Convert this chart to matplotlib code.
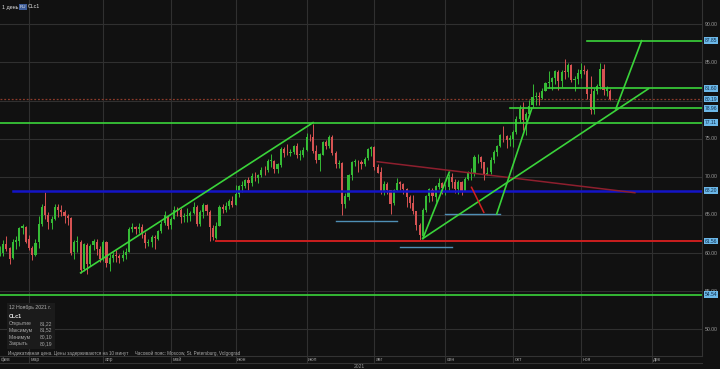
import numpy as np
import pandas as pd
import matplotlib
matplotlib.use("Agg")
import matplotlib.pyplot as plt
from matplotlib.transforms import blended_transform_factory
from matplotlib.patches import Rectangle

plt.rcParams['font.family'] = ['Liberation Sans', 'DejaVu Sans']

# ---------------- data (CLc1 daily, 16 Feb 2021 - 12 Nov 2021) ----------------
start_date = '2021-02-16'
end_date = '2021-11-12'
holidays = ['2021-04-02', '2021-05-31', '2021-07-05', '2021-09-06']

opens = [
    59.70, 60.00, 61.20, 60.60, 59.30, 61.50, 61.60, 63.25, 63.40,
    61.80, 60.60, 59.80, 61.40, 63.80, 66.20, 65.00, 64.00, 64.40, 66.00, 65.60, 65.40, 64.80, 64.60, 60.10, 61.40, 61.50, 57.90, 61.10, 58.60, 61.00, 61.50, 60.50,
    59.30, 61.40, 58.60, 59.40, 59.70, 59.60, 59.30, 59.70, 60.20, 63.20, 63.40, 63.10, 63.40, 62.40, 61.30, 61.40, 62.10, 61.90, 62.90, 63.90, 64.90,
    63.70, 64.50, 65.70, 65.60, 64.70, 64.90, 64.90, 65.30, 66.10, 63.80, 65.40, 66.30, 65.40, 63.30, 62.00, 63.60, 66.00, 65.70, 66.20, 66.80,
    66.30, 67.70, 68.80, 68.80, 69.60, 69.20, 70.00, 69.90, 70.30, 70.90, 70.90, 72.10, 72.10, 71.00, 71.60, 73.60, 73.10, 73.10, 73.30, 74.00, 72.90, 72.90,
    73.50, 75.20, 75.20, 73.40, 72.20, 72.90, 74.50, 74.10, 75.20, 73.10, 71.70, 71.80, 66.40, 67.40, 70.30, 71.90, 72.00, 71.90, 71.70, 72.40, 73.60,
    73.90, 71.30, 70.60, 68.20, 69.10, 68.30, 66.50, 68.30, 69.30, 69.10, 68.40, 67.30, 66.60, 65.50, 63.70, 62.30, 65.60, 67.50, 68.30, 67.40, 68.70, 69.20,
    68.50, 68.60, 70.00, 69.30, 68.40, 69.30, 68.10, 69.70, 70.40, 70.50, 72.60, 72.60, 71.90, 70.30, 70.60, 72.20, 73.30, 74.00, 75.40, 75.30, 74.80,
    75.00, 75.90, 77.60, 78.90, 77.40, 78.30, 79.40, 80.50, 80.60, 80.40, 81.30, 82.30, 82.40, 82.90, 83.80, 82.50, 83.80, 83.80, 84.60, 82.70, 82.80,
    83.50, 84.00, 83.90, 80.90, 78.80, 81.30, 81.90, 84.10, 81.30, 81.22,
]
highs = [
    60.95, 61.73, 62.26, 60.80, 61.79, 62.30, 63.40, 63.81, 63.50,
    62.41, 60.87, 61.83, 64.86, 66.40, 67.98, 65.44, 64.92, 66.40, 66.40, 66.30, 65.71, 65.14, 64.75, 61.72, 62.29, 61.65, 61.28, 61.27, 61.15, 61.90, 61.80, 60.87,
    61.75, 61.55, 59.84, 60.10, 60.38, 59.88, 60.37, 60.63, 63.36, 63.92, 63.56, 64.00, 63.86, 62.78, 61.83, 62.37, 62.33, 63.08, 64.18, 65.47, 65.04,
    64.69, 66.18, 66.04, 65.86, 65.30, 65.90, 65.50, 66.66, 66.26, 65.59, 66.58, 66.49, 65.59, 63.63, 64.01, 66.24, 66.46, 66.65, 67.04, 67.44,
    68.87, 68.98, 69.40, 69.76, 70.00, 70.44, 70.62, 70.42, 71.24, 71.43, 72.39, 72.99, 72.20, 71.87, 73.95, 73.96, 74.25, 73.71, 74.20, 74.45, 73.55, 73.91,
    75.70, 75.65, 76.98, 74.23, 73.18, 74.67, 74.84, 75.52, 75.47, 73.42, 72.19, 71.90, 67.93, 70.42, 72.10, 72.33, 72.23, 72.17, 72.55, 73.73, 74.10,
    74.01, 71.72, 71.30, 69.39, 69.33, 68.30, 68.45, 69.81, 69.47, 69.20, 68.52, 67.57, 67.58, 65.53, 63.91, 65.86, 67.64, 68.48, 68.52, 68.89, 69.86, 69.38,
    69.05, 70.34, 70.51, 69.65, 69.55, 69.47, 69.92, 70.79, 71.21, 72.84, 72.96, 72.77, 71.98, 71.35, 72.56, 73.50, 74.20, 75.64, 76.67, 75.45, 75.46,
    76.12, 77.95, 79.48, 79.78, 78.53, 80.11, 82.18, 81.06, 81.15, 81.62, 82.46, 83.87, 83.08, 83.96, 84.02, 84.05, 85.41, 84.89, 84.82, 83.28, 84.10,
    84.88, 84.60, 84.20, 83.19, 81.60, 82.22, 84.97, 84.80, 81.85, 81.52,
]
lows = [
    59.55, 59.60, 60.30, 58.62, 59.25, 60.53, 60.90, 62.50, 61.30,
    60.36, 59.12, 59.57, 60.70, 63.60, 64.51, 63.15, 63.20, 64.30, 64.75, 64.86, 63.93, 63.70, 59.70, 59.24, 60.18, 57.32, 57.60, 57.31, 58.25, 60.34, 59.80, 58.86,
    58.89, 58.15, 57.61, 58.82, 58.86, 58.65, 58.96, 59.24, 60.17, 62.75, 62.49, 62.60, 61.97, 60.60, 60.88, 60.82, 60.59, 61.66, 62.61, 63.70, 63.11,
    63.16, 64.42, 64.91, 63.91, 64.01, 64.09, 64.25, 65.17, 63.61, 63.50, 64.66, 64.96, 61.56, 61.75, 61.79, 63.53, 65.28, 65.34, 65.76, 66.03,
    66.24, 67.30, 68.07, 68.49, 68.30, 68.74, 69.41, 69.20, 70.03, 70.28, 70.60, 71.30, 70.48, 70.47, 71.31, 72.60, 72.92, 72.70, 73.02, 72.43, 72.21, 72.64,
    73.37, 74.74, 73.15, 71.81, 70.76, 72.87, 73.61, 73.74, 72.88, 71.11, 71.10, 65.01, 65.86, 66.92, 69.56, 71.42, 70.60, 71.04, 71.37, 72.20, 72.70,
    70.95, 70.55, 67.78, 67.61, 67.68, 65.15, 66.31, 68.08, 68.27, 67.74, 66.07, 65.85, 65.12, 62.96, 61.74, 62.23, 65.44, 66.73, 66.76, 66.70, 68.34, 67.69,
    67.58, 68.25, 68.56, 67.86, 67.75, 67.58, 68.09, 69.55, 69.59, 70.16, 71.84, 71.11, 69.58, 70.18, 70.40, 71.86, 72.71, 73.95, 74.62, 73.84, 74.09,
    73.97, 75.61, 77.10, 76.08, 75.53, 78.10, 79.20, 79.40, 79.47, 80.17, 81.27, 81.61, 81.41, 82.23, 81.39, 81.82, 82.83, 83.10, 82.43, 81.22, 82.15,
    82.90, 83.50, 80.18, 78.25, 78.30, 80.80, 81.50, 80.74, 80.55, 80.10,
]
closes = [
    60.05, 61.14, 60.52, 59.24, 61.49, 61.67, 63.22, 63.53, 61.50,
    60.64, 59.75, 61.28, 63.83, 66.09, 65.05, 64.01, 64.44, 66.02, 65.61, 65.39, 64.80, 64.60, 60.00, 61.42, 61.55, 57.76, 61.18, 58.56, 60.97, 61.56, 60.55, 59.16,
    61.45, 58.65, 59.33, 59.77, 59.60, 59.32, 59.70, 60.18, 63.15, 63.46, 63.13, 63.38, 62.44, 61.35, 61.43, 62.14, 61.91, 62.94, 63.86, 65.01, 63.58,
    64.49, 65.69, 65.63, 64.71, 64.90, 64.92, 65.28, 66.08, 63.82, 65.37, 66.27, 65.49, 63.36, 62.05, 63.58, 66.05, 65.76, 66.21, 66.85, 66.32,
    67.72, 68.83, 68.81, 69.62, 69.23, 70.05, 69.96, 70.29, 70.91, 70.88, 72.12, 72.15, 71.04, 71.64, 73.66, 73.06, 73.08, 73.30, 74.05, 72.91, 72.98, 73.47,
    75.23, 75.16, 73.37, 72.20, 72.94, 74.56, 74.10, 75.25, 73.13, 71.65, 71.81, 66.42, 67.42, 70.30, 71.91, 72.07, 71.91, 71.65, 72.39, 73.62, 73.95,
    71.26, 70.56, 68.15, 69.09, 68.28, 66.48, 68.29, 69.25, 69.09, 68.44, 67.29, 66.59, 65.46, 63.69, 62.32, 65.64, 67.54, 68.36, 67.42, 68.74, 69.21, 68.50,
    68.59, 69.99, 69.29, 68.35, 69.30, 68.14, 69.72, 70.45, 70.46, 72.61, 72.61, 71.97, 70.29, 70.56, 72.23, 73.30, 73.98, 75.45, 75.29, 74.83, 75.03,
    75.88, 77.62, 78.93, 77.43, 78.30, 79.35, 80.52, 80.64, 80.44, 81.31, 82.28, 82.44, 82.96, 83.87, 82.50, 83.76, 83.76, 84.65, 82.66, 82.81, 83.57,
    84.05, 83.91, 80.86, 78.81, 81.27, 81.93, 84.15, 81.34, 81.59, 80.19,
]

month_labels = ['фев', 'мар', 'апр', 'май', 'июн', 'июл', 'авг', 'сен', 'окт', 'ноя', 'дек']
price_ticks = [90, 85, 75, 70, 65, 60, 55, 50]

# drawn levels
level_full_green = [77.11, 54.54]
level_blue = 68.20
level_red = 61.56
levels_right_green = [(87.85, 181.9), (81.60, 169.8), (78.96, 158.0)]
last_price = 80.19
# trend lines: (x0, y0, x1, y1) in bar index / price
green_trends = [(25.0, 57.40, 97.0, 77.11),
                (131.0, 61.90, 139.2, 70.60),
                (131.0, 61.90, 200.9, 81.55),
                (153.9, 65.12, 164.8, 79.00),
                (190.8, 78.90, 198.8, 87.85)]
lightblue_segments = [(104.0, 122.9, 64.20), (123.9, 139.9, 60.83), (137.9, 154.9, 65.10)]
darkred_trend = (116.9, 71.98, 196.7, 67.91)
red_short = (146.1, 68.62, 149.9, 65.34)

info_rows = [('Открытие', '81,22'), ('Максимум', '81,52'), ('Минимум', '80,10'), ('Закрыть', '80,19')]

# ---------------- dates / index ----------------
bdays = pd.bdate_range(start_date, end_date)
bdays = bdays[~bdays.isin(pd.to_datetime(holidays))]
n = len(closes)
dates = bdays[:n]
future = pd.bdate_range(pd.Timestamp(end_date) + pd.Timedelta(days=1), '2021-12-31')
all_dates = dates.append(future)
month_idx = [0] + [i for i in range(1, len(all_dates)) if all_dates[i].month != all_dates[i - 1].month]

# ---------------- figure ----------------
W, H = 720, 369
fig = plt.figure(figsize=(W / 100, H / 100), dpi=100)
bg = '#111111'
fig.patch.set_facecolor(bg)
plot_right = 702 / W
plot_bottom = 1 - 355.5 / H
ax = fig.add_axes([0, plot_bottom, plot_right, 1 - plot_bottom])
ax.set_facecolor(bg)
for s in ax.spines.values():
    s.set_visible(False)
ax.set_xticks([])
ax.set_yticks([])
xl, xr = 0.016, 217.5
ax.set_xlim(xl, xr)
ylo, yhi = 46.56, 93.19
ax.set_ylim(ylo, yhi)

grid_c = '#303030'
for p in range(50, 95, 5):
    ax.axhline(p, color=grid_c, lw=0.8, zorder=0)
ext = 6.5 / 355.5
for mi in month_idx[1:]:
    ax.axvline(mi, ymin=-ext, ymax=1, color=grid_c, lw=0.8, zorder=0, clip_on=False)

# candles
x = np.arange(n)
o = np.array(opens); h = np.array(highs); l = np.array(lows); c = np.array(closes)
up = c >= o
gcol, rcol = '#36bb36', '#d65353'
cols = np.where(up, gcol, rcol)
ax.vlines(x, l, h, colors=cols, lw=0.7, zorder=2)
body_lo = np.minimum(o, c)
body_h = np.maximum(np.abs(c - o), 0.06)
ax.bar(x, body_h, bottom=body_lo, width=0.66, color=cols, edgecolor='none', zorder=3)

# levels
lg = '#3ad43a'
for lv in level_full_green:
    ax.axhline(lv, color=lg, lw=1.2, zorder=4)
ax.plot([4.0, xr], [level_blue, level_blue], color='#1414c8', lw=1.8, zorder=4)
ax.plot([66.9, xr], [level_red, level_red], color='#cc1f1f', lw=1.4, zorder=4)
for lv, x0 in levels_right_green:
    ax.plot([x0, xr], [lv, lv], color=lg, lw=1.2, zorder=4)
ax.axhline(last_price, color='#8a3a2a', lw=0.9, ls=(0, (1.5, 1.5)), zorder=1)

for x0, y0, x1, y1 in green_trends:
    ax.plot([x0, x1], [y0, y1], color=lg, lw=1.2, zorder=5)
for x0, x1, yv in lightblue_segments:
    ax.plot([x0, x1], [yv, yv], color='#4f8fb5', lw=1.0, zorder=4)
ax.plot(darkred_trend[0::2], darkred_trend[1::2], color='#8e1f2e', lw=1.1, zorder=4)
ax.plot(red_short[0::2], red_short[1::2], color='#d42020', lw=1.1, zorder=5)

# right axis
trY = blended_transform_factory(ax.transAxes, ax.transData)
ax.axvline(xr, color='#333333', lw=0.8, zorder=6, clip_on=False)
for p in price_ticks:
    ax.text(1.004, p, f'{p:.2f}', transform=trY, ha='left', va='center',
            fontsize=3.7, color='#9a9a9a', clip_on=False)
box_levels = [87.85, 81.60, 80.19, 78.96, 77.11, 68.20, 61.56, 54.54]
for bl in box_levels:
    ax.text(1.004, bl, f'{bl:.2f}', transform=trY, ha='left', va='center',
            fontsize=3.6, color='#0d2a48', clip_on=False, zorder=10,
            bbox=dict(boxstyle='square,pad=0.15', fc='#6cb8e8', ec='none'))

# x-axis labels
trX = blended_transform_factory(ax.transData, ax.transAxes)
for mi, lab in zip(month_idx, month_labels):
    ax.text(mi + 0.4, -3.6 / 355.5, lab, transform=trX, ha='left', va='center',
            fontsize=3.6, color='#9a9a9a', clip_on=False)
fig.add_artist(plt.Line2D([0, plot_right], [1 - 355.5 / H] * 2, color='#333333', lw=0.8))
fig.add_artist(plt.Line2D([0, plot_right], [1 - 362.5 / H] * 2, color='#333333', lw=0.8))
fig.text(359 / W, 1 - 366 / H, '2021', ha='center', va='center', fontsize=3.6, color='#9a9a9a')

# top-left title
fig.text(2 / W, 1 - 7 / H, '1 день', ha='left', va='center', fontsize=3.8, color='#e0e0e0')
fig.text(19.5 / W, 1 - 7 / H, 'RU', ha='left', va='center', fontsize=3.2, color='#e8e8e8',
         bbox=dict(boxstyle='square,pad=0.2', fc='#3d5c99', ec='none'))
fig.text(28 / W, 1 - 7 / H, 'CLc1', ha='left', va='center', fontsize=3.8, color='#e0e0e0')

# info box
fig.add_artist(Rectangle((7 / W, 1 - 349 / H), 48 / W, 46 / H, transform=fig.transFigure,
                         fc='#1b1b1b', ec='none', zorder=8))
fig.text(9 / W, 1 - 308 / H, '12 Ноябрь 2021 г.', ha='left', va='center', fontsize=3.7,
         color='#b0b0b0', zorder=9)
fig.text(9 / W, 1 - 316.5 / H, 'CLc1', ha='left', va='center', fontsize=3.9,
         color='#e6e6e6', fontweight='bold', zorder=9)
for k, (lab, val) in enumerate(info_rows):
    yy = 1 - (323.5 + k * 6.75) / H
    fig.text(9 / W, yy, lab, ha='left', va='center', fontsize=3.6, color='#a8a8a8', zorder=9)
    fig.text(40 / W, yy, val, ha='left', va='center', fontsize=3.6, color='#a8a8a8', zorder=9)
fig.text(8 / W, 1 - 353 / H,
         'Индикативная цена. Цены задерживаются на 10 минут     Часовой пояс: Moscow, St. Petersburg, Volgograd',
         ha='left', va='center', fontsize=3.3, color='#a8a8a8', zorder=9)

fig.savefig('out.png', dpi=100, facecolor=bg)
